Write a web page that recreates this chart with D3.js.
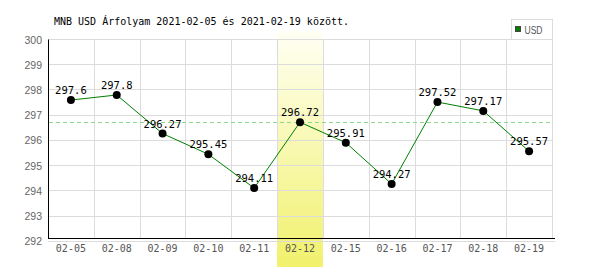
<!DOCTYPE html>
<html>
<head>
<meta charset="utf-8">
<script src="https://cdn.jsdelivr.net/npm/d3@7"></script>
<style>
  body { margin: 0; background: #fff; }
  svg { display: block; }
</style>
</head>
<body>
<svg id="chart" width="600" height="270"></svg>
<script>
// data
const dates = ["02-05", "02-08", "02-09", "02-10", "02-11", "02-12", "02-15", "02-16", "02-17", "02-18", "02-19"];
const rates = [297.6, 297.8, 296.27, 295.45, 294.11, 296.72, 295.91, 294.27, 297.52, 297.17, 295.57];
const rateLabels = ["297.6", "297.8", "296.27", "295.45", "294.11", "296.72", "295.91", "294.27", "297.52", "297.17", "295.57"];
const yTicks = [292, 293, 294, 295, 296, 297, 298, 299, 300];
const highlightDate = "02-12";
const title = "MNB USD Árfolyam 2021-02-05 és 2021-02-19 között.";
const seriesName = "USD";

const mono = "'DejaVu Sans Mono', 'Liberation Mono', monospace";
const sans = "'Liberation Sans', Arial, sans-serif";

const svg = d3.select("#chart");
const margin = {top: 39.5, right: 552, bottom: 241.3, left: 48};

const x = d3.scaleBand().domain(dates).range([margin.left, margin.right]).padding(0);
const y = d3.scaleLinear().domain([292, 300]).range([margin.bottom, margin.top]);
const py = v => Math.floor(y(v)) + 0.5;

// highlight band for the current day
const grad = svg.append("defs").append("linearGradient")
  .attr("id", "hl").attr("x1", 0).attr("y1", 0).attr("x2", 0).attr("y2", 1);
grad.append("stop").attr("offset", "0%").attr("stop-color", "#fffff4");
grad.append("stop").attr("offset", "100%").attr("stop-color", "#f1f16c");

svg.append("rect")
  .attr("x", x(highlightDate))
  .attr("y", 31)
  .attr("width", x.bandwidth())
  .attr("height", 236)
  .attr("fill", "url(#hl)");

// grid
const grid = svg.append("g").attr("stroke", "#dcdcdc").attr("stroke-width", 1);
grid.selectAll(".h").data(yTicks.slice(1)).join("line")
  .attr("x1", margin.left).attr("x2", margin.right)
  .attr("y1", d => py(d)).attr("y2", d => py(d));
grid.selectAll(".v").data(dates.slice(1).concat(["end"])).join("line")
  .attr("x1", d => Math.round(d === "end" ? margin.right : x(d)) + 0.5)
  .attr("x2", d => Math.round(d === "end" ? margin.right : x(d)) + 0.5)
  .attr("y1", py(300)).attr("y2", 238.5);

// axes lines
svg.append("line").attr("x1", 48.5).attr("x2", 48.5)
  .attr("y1", py(300)).attr("y2", 238.5).attr("stroke", "#000");
svg.append("line").attr("x1", 48).attr("x2", 555)
  .attr("y1", 238.5).attr("y2", 238.5).attr("stroke", "#000");
svg.append("line").attr("x1", 48).attr("x2", 555)
  .attr("y1", 241.5).attr("y2", 241.5).attr("stroke", "#dcdcdc");

// y labels
svg.append("g").selectAll("text").data(yTicks).join("text")
  .attr("x", 42).attr("y", d => y(d) + 4)
  .attr("text-anchor", "end")
  .attr("font-family", sans).attr("font-size", 10.5)
  .attr("fill", "#666")
  .text(d => d);

// x labels
svg.append("g").selectAll("text").data(dates).join("text")
  .attr("x", d => x(d) + x.bandwidth() / 2).attr("y", 252)
  .attr("text-anchor", "middle")
  .attr("font-family", mono).attr("font-size", 10)
  .attr("fill", "#555")
  .text(d => d);

// reference line at the highlighted day's rate
const refValue = rates[dates.indexOf(highlightDate)];
svg.append("line")
  .attr("x1", margin.left + 1).attr("x2", margin.right)
  .attr("y1", py(refValue)).attr("y2", py(refValue))
  .attr("stroke", "#8fd68f").attr("stroke-dasharray", "4,3");

// series
const cx = d => x(d) + x.bandwidth() / 2;
svg.append("path")
  .datum(dates.map((d, i) => [cx(d), y(rates[i])]))
  .attr("fill", "none").attr("stroke", "#007f00").attr("stroke-width", 1)
  .attr("d", d3.line());

svg.append("g").selectAll("circle").data(dates).join("circle")
  .attr("cx", d => cx(d)).attr("cy", (d, i) => y(rates[i]))
  .attr("r", 4).attr("fill", "#000");

svg.append("g").selectAll("text").data(dates).join("text")
  .attr("x", d => cx(d)).attr("y", (d, i) => y(rates[i]) - 6)
  .attr("text-anchor", "middle")
  .attr("font-family", mono).attr("font-size", 10.5)
  .attr("fill", "#000")
  .text((d, i) => rateLabels[i]);

// title
svg.append("text").attr("x", 54).attr("y", 24.5)
  .attr("font-family", mono).attr("font-size", 10)
  .attr("fill", "#000").text(title);

// legend
const lg = svg.append("g");
lg.append("rect").attr("x", 511.5).attr("y", 19.5).attr("width", 41).attr("height", 20)
  .attr("fill", "#fff").attr("stroke", "#dcdcdc");
lg.append("rect").attr("x", 515.5).attr("y", 26.5).attr("width", 5).attr("height", 5)
  .attr("fill", "#007f00").attr("stroke", "#444");
lg.append("text").attr("x", 524.5).attr("y", 33.5)
  .attr("font-family", sans).attr("font-size", 10)
  .attr("textLength", 18).attr("lengthAdjust", "spacingAndGlyphs")
  .attr("fill", "#555").text(seriesName);
</script>
</body>
</html>
